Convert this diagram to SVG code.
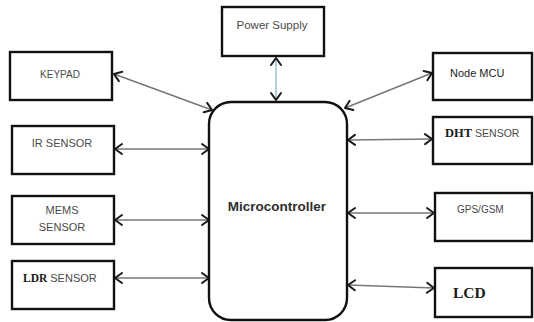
<svg xmlns="http://www.w3.org/2000/svg" width="534" height="322" viewBox="0 0 534 322">
  <style>
    .box { fill: #fff; stroke: #111; stroke-width: 2.4; }
    .lbl { font-family: "Liberation Sans", Arial, sans-serif; font-size: 11px; fill: #4a4a4a; }
    .ser { font-family: "Liberation Serif", "Times New Roman", serif; font-weight: bold; fill: #1a1a1a; }
    .link { stroke: #777; stroke-width: 1.6; fill: none; marker-start: url(#chev); marker-end: url(#chev); }
    .power { stroke: #9ec6d8; }
  </style>
  <defs>
    <marker id="chev" viewBox="-9 -7 11 14" refX="0" refY="0" markerWidth="11" markerHeight="14" markerUnits="userSpaceOnUse" orient="auto-start-reverse">
      <path d="M-7,-5 L0,0 L-7,5" fill="none" stroke="#1a1a1a" stroke-width="2" stroke-linejoin="round" stroke-linecap="round"/>
    </marker>
  </defs>
  <rect width="534" height="322" fill="#fff"/>

  <g id="connectors">
    <line class="link" x1="114" y1="74" x2="212" y2="110"/>
    <line class="link" x1="115" y1="149" x2="209" y2="149"/>
    <line class="link" x1="115" y1="220" x2="209" y2="220"/>
    <line class="link" x1="115" y1="278" x2="209" y2="278"/>
    <line class="link power" x1="276" y1="58" x2="276" y2="100"/>
    <line class="link" x1="345" y1="108" x2="432" y2="73"/>
    <line class="link" x1="348" y1="140" x2="432" y2="139"/>
    <line class="link" x1="348" y1="213" x2="434" y2="213"/>
    <line class="link" x1="348" y1="285" x2="434" y2="288"/>
  </g>

  <g id="keypad">
    <rect class="box" x="10" y="52" width="102" height="48"/>
    <text class="lbl" x="60" y="78" font-size="10" text-anchor="middle" style="font-size:10px">KEYPAD</text>
  </g>
  <g id="ir-sensor">
    <rect class="box" x="12" y="126" width="102" height="48"/>
    <text class="lbl" x="62" y="147" text-anchor="middle">IR SENSOR</text>
  </g>
  <g id="mems-sensor">
    <rect class="box" x="12" y="196" width="102" height="48"/>
    <text class="lbl" x="62" y="214" text-anchor="middle">MEMS</text>
    <text class="lbl" x="62" y="231" text-anchor="middle">SENSOR</text>
  </g>
  <g id="ldr-sensor">
    <rect class="box" x="12" y="261" width="102" height="48"/>
    <text x="23" y="282"><tspan class="ser" style="font-size:11.5px">LDR</tspan><tspan class="lbl" dx="3">SENSOR</tspan></text>
  </g>
  <g id="power-supply">
    <rect class="box" x="222" y="7" width="102" height="49"/>
    <text class="lbl" x="272" y="29" text-anchor="middle" style="font-size:11.5px">Power Supply</text>
  </g>
  <g id="microcontroller">
    <rect class="box" x="209" y="102" width="138" height="218" rx="22" ry="22"/>
    <text x="277" y="211" text-anchor="middle" font-family="Liberation Sans, Arial, sans-serif" font-weight="bold" font-size="13.5" fill="#2e2e2e">Microcontroller</text>
  </g>
  <g id="node-mcu">
    <rect class="box" x="433" y="53" width="99" height="47"/>
    <text class="lbl" x="450" y="77" fill="#1e1e1e" style="fill:#1e1e1e">Node MCU</text>
  </g>
  <g id="dht-sensor">
    <rect class="box" x="433" y="117" width="99" height="47"/>
    <text x="445" y="137"><tspan class="ser" style="font-size:12.5px">DHT</tspan><tspan class="lbl" dx="3" style="font-size:10.5px">SENSOR</tspan></text>
  </g>
  <g id="gps-gsm">
    <rect class="box" x="435" y="193" width="97" height="48"/>
    <text class="lbl" x="457" y="213" style="font-size:10px">GPS/GSM</text>
  </g>
  <g id="lcd">
    <rect class="box" x="435" y="268" width="97" height="49"/>
    <text class="ser" x="453" y="298" style="font-size:15.5px">LCD</text>
  </g>
</svg>
